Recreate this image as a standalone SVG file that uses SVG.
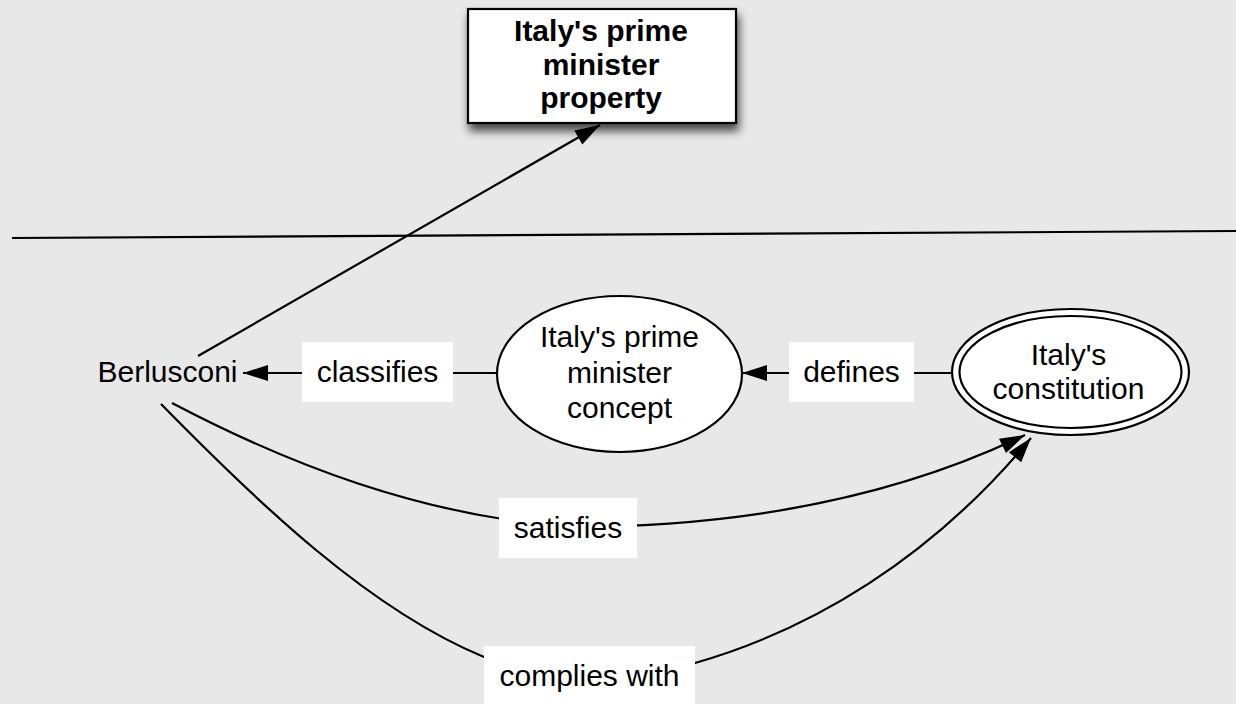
<svg xmlns="http://www.w3.org/2000/svg" width="1236" height="704" viewBox="0 0 1236 704">
  <style>
    .bg { fill: #e8e8e8; }
    .txt { font-family: "Liberation Sans", Arial, sans-serif; font-size: 30px; fill: #000; text-anchor: middle; }
    .bold { font-weight: bold; }
    .shape { fill: #fff; stroke: #000; stroke-width: 2.2; }
    .label { fill: #fff; stroke: none; }
    .edge { fill: none; stroke: #000; stroke-width: 2.2; }
  </style>
  <defs>
    <marker id="arrow" markerUnits="userSpaceOnUse" markerWidth="30" markerHeight="20" viewBox="-28 -10 30 20" refX="0" refY="0" orient="auto">
      <path d="M0,0 L-25,-8 L-25,8 Z" fill="#000"/>
    </marker>
    <filter id="shadow" x="-20%" y="-20%" width="140%" height="160%">
      <feDropShadow dx="2" dy="7" stdDeviation="5" flood-color="#000" flood-opacity="0.7"/>
    </filter>
  </defs>

  <rect class="bg" x="0" y="0" width="1236" height="704"/>

  <!-- divider between the property level and the concept level -->
  <line class="edge" x1="12" y1="238" x2="1236" y2="231"/>

  <g id="connectors">
    <!-- Berlusconi to the property box -->
    <line class="edge" x1="198" y1="356" x2="600" y2="125" marker-end="url(#arrow)"/>
    <!-- classifies -->
    <line class="edge" x1="497" y1="373" x2="243" y2="373" marker-end="url(#arrow)"/>
    <!-- defines -->
    <line class="edge" x1="952" y1="373" x2="742" y2="373" marker-end="url(#arrow)"/>
    <!-- satisfies -->
    <path class="edge" d="M172,403 C290,465 420,515 568,527 C720,527 880,505 1025,435" marker-end="url(#arrow)"/>
    <!-- complies with -->
    <path class="edge" d="M161,404 C260,505 370,610 484,657 L695,663 C810,630 930,560 1031,438" marker-end="url(#arrow)"/>

    <g id="label-classifies">
      <rect class="label" x="302" y="342" width="151" height="60"/>
      <text class="txt" x="377.5" y="382">classifies</text>
    </g>
    <g id="label-defines">
      <rect class="label" x="789" y="342" width="125" height="60"/>
      <text class="txt" x="851.5" y="382">defines</text>
    </g>
    <g id="label-satisfies">
      <rect class="label" x="499" y="498" width="138" height="60"/>
      <text class="txt" x="568" y="538">satisfies</text>
    </g>
    <g id="label-complies">
      <rect class="label" x="484" y="646" width="211" height="60"/>
      <text class="txt" x="589.5" y="686">complies with</text>
    </g>
  </g>

  <g id="property">
    <rect class="shape" x="468" y="9" width="268" height="114" stroke-width="2.6" filter="url(#shadow)"/>
    <text class="txt bold" x="601" y="41">Italy's prime</text>
    <text class="txt bold" x="601" y="75">minister</text>
    <text class="txt bold" x="601" y="108">property</text>
  </g>

  <g id="berlusconi">
    <text class="txt" x="167.5" y="382">Berlusconi</text>
  </g>

  <g id="concept">
    <ellipse class="shape" cx="619.5" cy="374" rx="122.5" ry="78"/>
    <text class="txt" x="619.5" y="347">Italy's prime</text>
    <text class="txt" x="619.5" y="383">minister</text>
    <text class="txt" x="619.5" y="418">concept</text>
  </g>

  <g id="constitution">
    <ellipse class="shape" cx="1070.5" cy="372" rx="118.5" ry="63"/>
    <ellipse class="shape" cx="1070.5" cy="372" rx="111" ry="56"/>
    <text class="txt" x="1068.5" y="365">Italy's</text>
    <text class="txt" x="1068.5" y="399">constitution</text>
  </g>
</svg>
